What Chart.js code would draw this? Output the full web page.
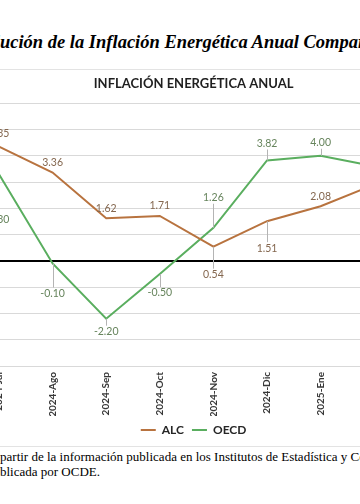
<!DOCTYPE html>
<html>
<head>
<meta charset="utf-8">
<script src="https://cdn.jsdelivr.net/npm/chart.js@4.4.1/dist/chart.umd.min.js"></script>
<style>
  html, body { margin: 0; padding: 0; background: #fff; }
  body { width: 360px; height: 504px; position: relative; overflow: hidden; }
  #docTitle {
    position: absolute; top: 32px; left: 0; white-space: nowrap;
    font: italic bold 18.5px "Liberation Serif", "Times New Roman", serif; color: #000;
  }
  #frame {
    position: absolute; top: 69px; left: 0; width: 360px; height: 376px;
    border-top: 1px solid #e3e3e3; border-bottom: 1px solid #e3e3e3;
  }
  #chartBox { position: absolute; top: 69px; left: -40px; width: 480px; height: 377px; }
  .note {
    position: absolute; left: 0; white-space: nowrap;
    font: 13px "Liberation Serif", "Times New Roman", serif; color: #000;
  }
</style>
</head>
<body>
<div id="docTitle"><span class="pre">Evol</span>ución de la Inflación Energética Anual Comparada</div>
<div id="frame"></div>
<div id="chartBox"><canvas id="energyChart"></canvas></div>
<div class="note" id="note1" style="top:449px"><span class="pre">a </span>partir de la información publicada en los Institutos de Estadística y Censos</div>
<div class="note" id="note2" style="top:464px"><span class="pre">pu</span>blicada por OCDE.</div>
<script>
// Chart data
const months = ['2024-Jul', '2024-Ago', '2024-Sep', '2024-Oct', '2024-Nov', '2024-Dic', '2025-Ene', '2025-Feb'];
const alcValues = [4.35, 3.36, 1.62, 1.71, 0.54, 1.51, 2.08, 2.90];
const oecdValues = [3.30, -0.10, -2.20, -0.50, 1.26, 3.82, 4.00, 3.60];

// Vertical offset (px) of each data label from its point, as dragged in the original
const alcLabelDy = [-13, -10, -10, -10, 28, 27, -10, -10];
const oecdLabelDy = [45, 30, 13, 19, -30, -17, -13, -13];

// Shift the cut-off texts so that the visible part starts at the left edge
document.querySelectorAll('.pre').forEach(pre => {
  pre.parentElement.style.left = (-pre.offsetWidth) + 'px';
});

// Data labels with leader lines
const dataLabels = {
  id: 'dataLabels',
  afterDatasetsDraw(chart) {
    const ctx = chart.ctx;
    ctx.save();
    ctx.font = '10.5px Lato';
    ctx.textAlign = 'center';
    ctx.textBaseline = 'middle';
    chart.data.datasets.forEach((ds, di) => {
      const meta = chart.getDatasetMeta(di);
      meta.data.forEach((pt, i) => {
        const dy = ds.labelDy[i];
        const ly = pt.y + dy;
        if (Math.abs(dy) > 12) {
          const s = Math.sign(dy);
          ctx.strokeStyle = '#b4b4b4';
          ctx.lineWidth = 1;
          ctx.beginPath();
          ctx.moveTo(Math.round(pt.x) + 0.5, pt.y);
          ctx.lineTo(Math.round(pt.x) + 0.5, ly - s * 6);
          ctx.stroke();
        }
        ctx.fillStyle = ds.labelColor;
        ctx.fillText(ds.data[i].toFixed(2), pt.x, ly);
      });
    });
    ctx.restore();
  }
};

new Chart(document.getElementById('energyChart'), {
  type: 'line',
  data: {
    labels: months,
    datasets: [{
      label: 'ALC',
      data: alcValues,
      borderColor: '#b8733f',
      backgroundColor: '#b8733f',
      borderWidth: 2,
      pointRadius: 0,
      tension: 0,
      labelDy: alcLabelDy,
      labelColor: '#84674f'
    }, {
      label: 'OECD',
      data: oecdValues,
      borderColor: '#5aae5f',
      backgroundColor: '#5aae5f',
      borderWidth: 2,
      pointRadius: 0,
      tension: 0,
      labelDy: oecdLabelDy,
      labelColor: '#66845c'
    }]
  },
  options: {
    responsive: true,
    maintainAspectRatio: false,
    animation: false,
    layout: { padding: { left: 12.2, right: 25, top: 0, bottom: 0 } },
    scales: {
      x: {
        offset: true,
        grid: { display: false, drawTicks: false },
        border: { display: false },
        ticks: {
          minRotation: 90,
          maxRotation: 90,
          padding: 6,
          color: '#383838',
          font: { family: 'Lato', size: 10, weight: 'bold' }
        },
        afterFit(scale) { scale.height = 50; }
      },
      y: {
        position: 'right',
        min: -4,
        max: 6,
        ticks: { display: false, stepSize: 1 },
        border: { display: false },
        grid: {
          drawTicks: false,
          color: ctx => ctx.tick.value === 0 ? '#000000' : '#d9d9d9',
          lineWidth: ctx => ctx.tick.value === 0 ? 2 : 1
        },
        afterFit(scale) { scale.width = 14; }
      }
    },
    plugins: {
      title: {
        display: true,
        text: 'INFLACIÓN ENERGÉTICA ANUAL',
        color: '#1f1f1f',
        font: { family: 'Lato', size: 13, weight: 'bold' },
        padding: { top: 6.6, bottom: 12 }
      },
      legend: {
        position: 'bottom',
        labels: {
          usePointStyle: true,
          pointStyle: 'line',
          pointStyleWidth: 15,
          padding: 8,
          color: '#262626',
          font: { family: 'Lato', size: 12, weight: 'bold' }
        }
      },
      tooltip: { enabled: false }
    }
  },
  plugins: [dataLabels]
});
</script>
</body>
</html>
